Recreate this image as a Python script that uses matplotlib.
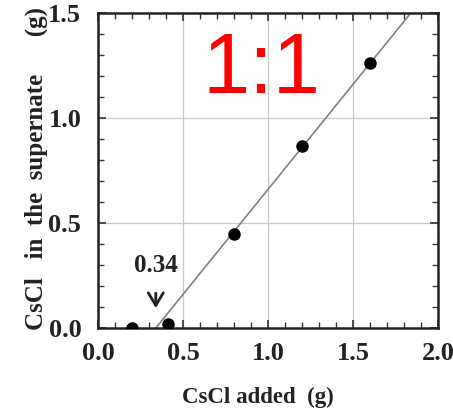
import numpy as np
import matplotlib
matplotlib.use('Agg')
import matplotlib.pyplot as plt
from matplotlib.ticker import MultipleLocator

# data
added = [0.2, 0.41, 0.8, 1.2, 1.6]
supernate = [0.0, 0.02, 0.45, 0.865, 1.26]
fit_x = [0.34, 1.85]
fit_y = [0.0, 1.51]
threshold = 0.34

plt.rcParams['font.family'] = ['Liberation Serif', 'DejaVu Serif']

fig = plt.figure(figsize=(4.53, 4.11), dpi=100)
ax = fig.add_axes([0.2163, 0.2019, 0.7506, 0.7665])

ax.plot(fit_x, fit_y, color='#808080', linewidth=1.2, zorder=2)
ax.plot(added, supernate, 'o', color='black', markersize=8, zorder=3)

ax.set_xlim(0, 2.0)
ax.set_ylim(0, 1.5)
ax.xaxis.set_major_locator(MultipleLocator(0.5))
ax.xaxis.set_minor_locator(MultipleLocator(0.1))
ax.yaxis.set_major_locator(MultipleLocator(0.5))
ax.yaxis.set_minor_locator(MultipleLocator(0.1))
ax.set_xticklabels([f'{v:.1f}' for v in ax.get_xticks()])
ax.set_yticklabels([f'{v:.1f}' for v in ax.get_yticks()])

ax.grid(True, which='major', color='#c8c8c8', linewidth=0.9)
ax.tick_params(which='both', direction='in', top=True, right=True, color='#333333')
ax.tick_params(which='major', length=6, width=1.2, labelsize=19)
ax.tick_params(axis='x', which='major', pad=10)
ax.tick_params(axis='y', which='major', pad=12)
ax.tick_params(which='minor', length=4, width=1.0)
for lbl in ax.get_xticklabels() + ax.get_yticklabels():
    lbl.set_fontweight('bold')
    lbl.set_color('#222222')
for sp in ax.spines.values():
    sp.set_linewidth(1.8)
    sp.set_color('#222222')

ax.set_xlabel('CsCl added  (g)', fontsize=16.5, fontweight='bold', color='#222222')
ax.xaxis.set_label_coords(0.47, -0.187)
ax.set_ylabel('CsCl   in  the  supernate      (g)', fontsize=18, fontweight='bold',
              color='#222222')
ax.yaxis.set_label_coords(-0.148, 0.505)

ax.annotate(f'{threshold:.2f}', xy=(threshold, 0.095), xytext=(threshold, 0.30),
            ha='center', va='center', fontsize=18, fontweight='bold', color='#222222',
            arrowprops=dict(arrowstyle='->,head_length=0.5,head_width=0.3',
                            color='#222222', lw=2, shrinkA=10, shrinkB=0))

ax.text(0.482, 0.746, '1:1', transform=ax.transAxes, ha='center', va='baseline',
        fontsize=61, color='red', family=['Liberation Sans', 'DejaVu Sans'])

plt.savefig('out.png', dpi=100)
